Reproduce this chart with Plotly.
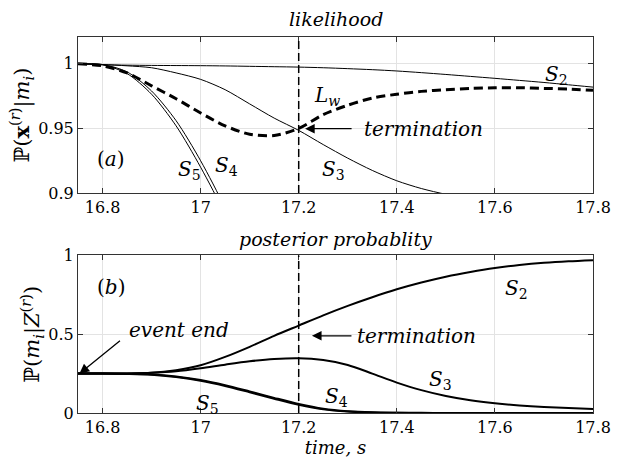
import plotly.graph_objects as go
from plotly.subplots import make_subplots

t = [16.75, 16.80, 16.85, 16.90, 16.95, 17.00, 17.05, 17.10, 17.15, 17.20, 17.25,
     17.30, 17.35, 17.40, 17.45, 17.50, 17.55, 17.60, 17.65, 17.70, 17.75, 17.80]

# likelihood (panel a)
lik_S2 = [1.000, 0.9993, 0.9990, 0.9988, 0.9987, 0.9986, 0.9984, 0.9981, 0.9978, 0.9975, 0.9970,
          0.9963, 0.9955, 0.9945, 0.9932, 0.9918, 0.9903, 0.9888, 0.9872, 0.9856, 0.9838, 0.9820]
lik_S3 = [1.000, 0.9995, 0.9985, 0.9970, 0.9930, 0.9880, 0.9800, 0.9690, 0.9580, 0.9485, 0.9375,
          0.9270, 0.9175, 0.9095, 0.9035, 0.8990, 0.8955, 0.8925, 0.8900, 0.8880, 0.8860, 0.8840]
lik_S4 = [1.000, 0.9995, 0.9938, 0.9790, 0.9560, 0.9250, 0.8880, 0.8400]
lik_S5 = [1.000, 0.9993, 0.9925, 0.9765, 0.9520, 0.9200, 0.8830, 0.8350]
lik_Lw = [1.000, 0.9985, 0.9930, 0.9830, 0.9730, 0.9620, 0.9520, 0.9455, 0.9445, 0.9500, 0.9607,
          0.9680, 0.9735, 0.9765, 0.9787, 0.9800, 0.9810, 0.9815, 0.9815, 0.9810, 0.9805, 0.9795]

# posterior probability (panel b)
post_S2 = [0.250, 0.250, 0.251, 0.255, 0.272, 0.303, 0.356, 0.420, 0.490, 0.555, 0.620,
           0.680, 0.735, 0.785, 0.828, 0.865, 0.895, 0.920, 0.939, 0.953, 0.963, 0.970]
post_S3 = [0.250, 0.250, 0.251, 0.255, 0.265, 0.284, 0.307, 0.328, 0.343, 0.348, 0.336,
           0.305, 0.250, 0.193, 0.145, 0.108, 0.081, 0.062, 0.048, 0.038, 0.031, 0.026]
post_S4 = [0.250, 0.250, 0.249, 0.245, 0.232, 0.210, 0.177, 0.137, 0.096, 0.057, 0.027,
           0.011, 0.004, 0.002, 0.001, 0.000, 0.000, 0.000, 0.000, 0.000, 0.000, 0.000]
post_S5 = [0.250, 0.250, 0.248, 0.243, 0.228, 0.205, 0.172, 0.132, 0.091, 0.052, 0.023,
           0.009, 0.003, 0.001, 0.000, 0.000, 0.000, 0.000, 0.000, 0.000, 0.000, 0.000]

t_term = 17.2
t_event_end = 16.753
xticks = [16.8, 17.0, 17.2, 17.4, 17.6, 17.8]
xtick_text = ["16.8", "17", "17.2", "17.4", "17.6", "17.8"]

FONT = "DejaVu Serif"

fig = make_subplots(rows=2, cols=1, vertical_spacing=0.166)

def add(x, y, row, width, dash=None, shape="spline"):
    fig.add_trace(go.Scatter(x=x, y=y, mode="lines", line_shape=shape,
                             line=dict(color="black", width=width, dash=dash, smoothing=0.8),
                             showlegend=False, hoverinfo="skip"), row=row, col=1)

add(t, lik_S2, 1, 1)
add(t, lik_S3, 1, 1)
add(t[:len(lik_S4)], lik_S4, 1, 1)
add(t[:len(lik_S5)], lik_S5, 1, 1)
add(t, lik_Lw, 1, 3, "9px,5px")

add(t, post_S2, 2, 2)
add(t, post_S3, 2, 2)
add(t, post_S4, 2, 2)
add(t, post_S5, 2, 2)

axis_common = dict(showline=True, linecolor="#333", linewidth=1, mirror="ticks",
                   ticks="inside", ticklen=5, tickcolor="#333",
                   showgrid=True, gridcolor="#e3e3e3", zeroline=False,
                   tickfont=dict(family=FONT, size=16, color="black"))

for r in (1, 2):
    fig.update_xaxes(range=[16.75, 17.8], tickvals=xticks, ticktext=xtick_text,
                     row=r, col=1, **axis_common)
fig.update_yaxes(range=[0.9, 1.0208], tickvals=[0.9, 0.95, 1], ticktext=["0.9", "0.95", "1"],
                 row=1, col=1, **axis_common)
fig.update_yaxes(range=[0, 1], tickvals=[0, 0.5, 1], ticktext=["0", "0.5", "1"],
                 row=2, col=1, **axis_common)

fig.update_yaxes(title=dict(text="ℙ(<b>x</b><sup>(<i>r</i>)</sup>|<i>m<sub>i</sub></i>)",
                            font=dict(family=FONT, size=21), standoff=2), row=1, col=1)
fig.update_yaxes(title=dict(text="ℙ(<i>m<sub>i</sub></i>|<i>Z</i><sup>(<i>r</i>)</sup>)",
                            font=dict(family=FONT, size=21), standoff=2), row=2, col=1)
fig.update_xaxes(title=dict(text="<i>time, s</i>", font=dict(family=FONT, size=18),
                            standoff=2), row=2, col=1)

# termination lines
for r, yr in ((1, "y domain"), (2, "y2 domain")):
    fig.add_shape(type="line", x0=t_term, x1=t_term, y0=0, y1=1,
                  xref="x" if r == 1 else "x2", yref=yr,
                  line=dict(color="black", width=1.5, dash="8px,4px"))

ann = []
def label(text, x, y, xr, yr, size=20, **kw):
    ann.append(dict(text=text, x=x, y=y, xref=xr, yref=yr, showarrow=False,
                    font=dict(family=FONT, size=size, color="black"), **kw))

# panel titles
label("<i>likelihood</i>", 0.5, 1.0, "x domain", "y domain", size=19, yanchor="bottom", yshift=5)
label("<i>posterior probablity</i>", 0.5, 1.0, "x2 domain", "y2 domain", size=19,
      yanchor="bottom", yshift=3)

# panel (a)
label("(<i>a</i>)", 16.817, 0.926, "x", "y")
label("<i>S</i><sub>2</sub>", 17.725, 0.9915, "x", "y")
label("<i>S</i><sub>3</sub>", 17.27, 0.918, "x", "y")
label("<i>S</i><sub>4</sub>", 17.052, 0.921, "x", "y")
label("<i>S</i><sub>5</sub>", 16.978, 0.918, "x", "y")
label("<i>L<sub>w</sub></i>", 17.257, 0.975, "x", "y")
label("<i>termination</i>", 17.455, 0.9495, "x", "y")
ann.append(dict(x=17.213, y=0.9498, ax=48, ay=0, xref="x", yref="y",
                showarrow=True, arrowhead=2, arrowsize=1.6,
                arrowwidth=1.2, arrowcolor="black", text=""))

# panel (b)
label("(<i>b</i>)", 16.817, 0.80, "x2", "y2")
label("<i>S</i><sub>2</sub>", 17.645, 0.79, "x2", "y2")
label("<i>S</i><sub>3</sub>", 17.49, 0.21, "x2", "y2")
label("<i>S</i><sub>4</sub>", 17.277, 0.10, "x2", "y2")
label("<i>S</i><sub>5</sub>", 17.015, 0.06, "x2", "y2")
label("<i>event end</i>", 16.955, 0.53, "x2", "y2")
label("<i>termination</i>", 17.44, 0.49, "x2", "y2")
ann.append(dict(x=t_event_end, y=0.25, ax=42, ay=-34, xref="x2", yref="y2",
                showarrow=True, arrowhead=2, arrowsize=1.5,
                arrowwidth=1.3, arrowcolor="black", text=""))
ann.append(dict(x=17.227, y=0.49, ax=41, ay=0, xref="x2", yref="y2",
                showarrow=True, arrowhead=2, arrowsize=1.6,
                arrowwidth=1.2, arrowcolor="black", text=""))

fig.update_layout(annotations=ann, width=623, height=464,
                  margin=dict(l=78, r=23, t=37, b=51),
                  paper_bgcolor="white", plot_bgcolor="white",
                  font=dict(family=FONT, color="black"))
fig.update_yaxes(domain=[0.585, 1.0], row=1, col=1)
fig.update_yaxes(domain=[0.0, 0.419], row=2, col=1)

fig.write_html("out.html")
